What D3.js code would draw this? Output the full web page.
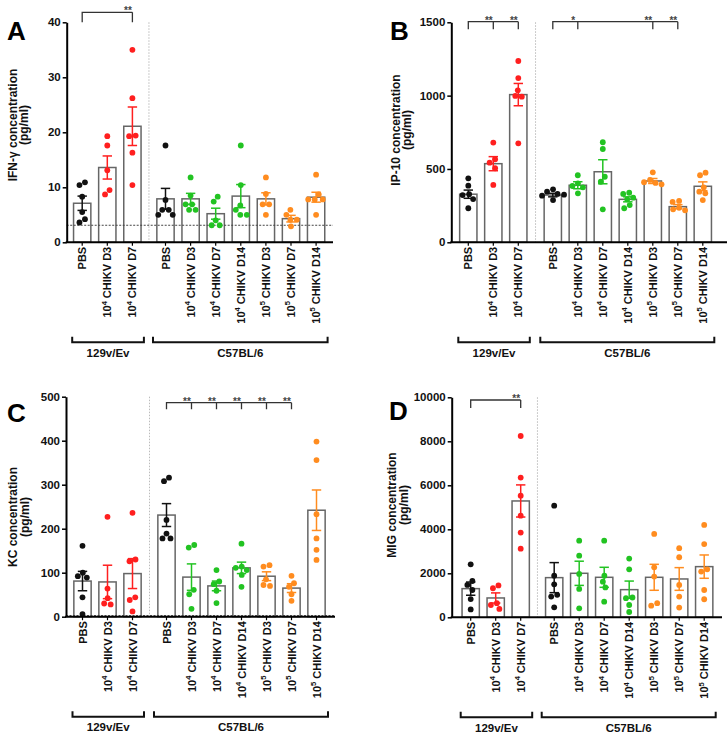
<!DOCTYPE html>
<html>
<head>
<meta http-equiv="Content-Type" content="text/html;charset=utf-8" />
<style type="text/css">
  body { margin: 0; background: #fff; }
  svg text { font-family: "Liberation Sans", Arial, sans-serif; font-weight: bold; }
</style>
</head>
<body>
<div id="svgContainer"></div>
<script src="https://cdn.jsdelivr.net/npm/d3@7/dist/d3.min.js"></script>
<script type="text/javascript">
// categories (same for all four panels)
var categories = ["PBS", "10^4 CHIKV D3", "10^4 CHIKV D7",
  "PBS", "10^4 CHIKV D3", "10^4 CHIKV D7", "10^4 CHIKV D14",
  "10^5 CHIKV D3", "10^5 CHIKV D7", "10^5 CHIKV D14"];
var strains = ["129v/Ev", "C57BL/6"];
var strainOf = [0, 0, 0, 1, 1, 1, 1, 1, 1, 1];

// A - IFN-gamma
var ifnTicks = [0, 10, 20, 30, 40];
var ifnMean = [7.1, 13.6, 21.1, 7.9, 7.9, 5.2, 8.4, 7.9, 4.3, 8.2];
var ifnSem = [1.3, 2.1, 3.5, 1.9, 1.0, 1.0, 2.1, 1.1, 0.6, 0.9];
var ifnPoints = [
  [10.9, 10.4, 8.3, 5.5, 4.2, 3.6],
  [19.3, 17.6, 13.1, 9.5, 8.7],
  [35.0, 26.2, 19.4, 19.3, 16.3, 10.4],
  [17.6, 7.7, 5.9, 5.9, 5.0, 5.0],
  [11.8, 8.5, 6.9, 6.9, 5.9, 5.9],
  [8.3, 7.4, 4.0, 3.1, 3.1],
  [17.6, 10.4, 6.7, 5.9, 5.0, 5.0],
  [11.8, 8.8, 6.9, 6.9, 5.0],
  [5.9, 5.0, 4.1, 4.1, 2.9],
  [12.3, 8.7, 7.8, 7.8, 7.8, 5.0]
];
var ifnLimit = 3.1;
var ifnSig = [{ at: [0, 2], stars: ["**"] }];

// B - IP-10
var ipTicks = [0, 500, 1000, 1500];
var ipMean = [328, 536, 1007, 322, 389, 481, 293, 418, 243, 382];
var ipSem = [28, 48, 76, 12, 24, 82, 17, 17, 14, 30];
var ipPoints = [
  [436, 386, 328, 322, 295, 232],
  [680, 566, 543, 505, 391],
  [1236, 1120, 1036, 998, 993, 675],
  [361, 345, 330, 325, 318, 288],
  [457, 402, 384, 375, 334],
  [682, 636, 447, 413, 225],
  [338, 330, 304, 293, 254, 232],
  [477, 425, 410, 405, 395],
  [282, 275, 235, 225, 218],
  [475, 457, 375, 345, 334, 288]
];
var ipSig = [{ at: [0, 1, 2], stars: ["**", "**"] },
             { at: [3, 4, 7, 8], stars: ["*", "**", "**"] }];

// C - KC
var kcTicks = [0, 100, 200, 300, 400, 500];
var kcMean = [81, 79, 98, 231, 90, 70, 111, 92, 65, 242];
var kcSem = [22, 38, 34, 26, 30, 11, 13, 10, 10, 46];
var kcPoints = [
  [161, 100, 92, 89, 44, 6],
  [227, 64, 42, 30, 28],
  [236, 130, 126, 44, 38, 12],
  [316, 308, 220, 189, 178, 178],
  [163, 157, 61, 51, 18],
  [106, 80, 74, 59, 31],
  [166, 114, 111, 106, 95, 68],
  [117, 114, 85, 72, 70],
  [93, 76, 68, 51, 36],
  [398, 356, 233, 178, 152, 129]
];
var kcLimit = 2.5;
var kcSig = [{ at: [3, 4, 5, 6, 7, 8], stars: ["**", "**", "**", "**", "**"] }];

// D - MIG
var migTicks = [0, 2000, 4000, 6000, 8000, 10000];
var migMean = [1303, 879, 5288, 1803, 2000, 1818, 1257, 1818, 1742, 2303];
var migSem = [300, 230, 730, 683, 550, 455, 390, 590, 516, 530];
var migPoints = [
  [2410, 1650, 1470, 1240, 830, 360],
  [1450, 1320, 640, 560, 380],
  [8240, 6350, 5530, 4620, 3850, 3120],
  [5075, 1890, 1500, 1020, 940, 455],
  [3485, 2800, 1970, 1290, 410],
  [3485, 1890, 1620, 1360, 710],
  [2670, 2180, 900, 870, 560, 240],
  [3790, 2270, 1850, 640, 530],
  [3140, 2730, 1470, 940, 440],
  [4200, 3330, 2180, 2080, 1240, 820]
];
var migSig = [{ at: [0, 2], stars: ["**"] }];

// layout of the four panels
var panels = [
  { letter: "A", title: "IFN-\u03b3 concentration", ticks: ifnTicks, mean: ifnMean, sem: ifnSem, pts: ifnPoints, lod: ifnLimit, sig: ifnSig,
    ax: 66.7, zero: 242.3, top: 22.3, off: 15.5, step: 25.1, gap: 8, xEnd: 333, sigY: 12.3, sigLen: 10,
    lx: 7, ly: 39.5, tx: 16.5, ty: 125 },
  { letter: "B", title: "IP-10 concentration", ticks: ipTicks, mean: ipMean, sem: ipSem, pts: ipPoints, lod: null, sig: ipSig,
    ax: 451.3, zero: 242.3, top: 22.3, off: 17, step: 25, gap: 9.5, xEnd: 727, sigY: 21.7, sigLen: 7.6,
    lx: 390, ly: 39.5, tx: 399.7, ty: 130 },
  { letter: "C", title: "KC concentration", ticks: kcTicks, mean: kcMean, sem: kcSem, pts: kcPoints, lod: kcLimit, sig: kcSig,
    ax: 66, zero: 616.7, top: 396.7, off: 16.5, step: 25, gap: 9, xEnd: 335, sigY: 402.7, sigLen: 6.6,
    lx: 7, ly: 421.5, tx: 17.3, ty: 517 },
  { letter: "D", title: "MIG concentration", ticks: migTicks, mean: migMean, sem: migSem, pts: migPoints, lod: null, sig: migSig,
    ax: 451.7, zero: 617.3, top: 397.3, off: 19, step: 25, gap: 8.5, xEnd: 722, sigY: 400, sigLen: 8,
    lx: 389, ly: 420, tx: 396.3, ty: 505 }
];

var W = 728, H = 735;
var barW = 17.3, dotR = 2.9, capW = 9.4;

var svg = d3.select("#svgContainer")
  .append("svg")
  .attr("width", W)
  .attr("height", H);

function colorFor(i) {
  var c = categories[i];
  if (c === "PBS") return "#111111";
  if (strainOf[i] === 0) return "#ff1f1f";
  return c.indexOf("10^4") === 0 ? "#22c322" : "#ff8c1f";
}

// simple beeswarm: nudge points sideways until they stop overlapping,
// then centre every cluster of touching points on the bar
function swarm(vals, y) {
  var minD = 2 * dotR + 0.3;
  var placed = [];
  vals.map(function (v) { return { v: v, py: y(v) }; })
    .sort(function (a, b) { return a.py - b.py; })
    .forEach(function (p) {
      var best = 0;
      for (var k = 0; k < 200; k++) {
        var off = (k % 2 === 0 ? 1 : -1) * Math.ceil(k / 2) * 0.5;
        var ok = placed.every(function (q) { return Math.hypot(q.dx - off, q.py - p.py) >= minD; });
        if (ok) { best = off; break; }
      }
      p.dx = best;
      placed.push(p);
    });
  var clusters = [], cur = [];
  placed.forEach(function (p, i) {
    if (i > 0 && p.py - placed[i - 1].py >= minD) { clusters.push(cur); cur = []; }
    cur.push(p);
  });
  if (cur.length) clusters.push(cur);
  clusters.forEach(function (cl) {
    var m = d3.mean(cl, function (p) { return p.dx; });
    cl.forEach(function (p) { p.dx -= m; });
  });
  return placed;
}

function writeLabel(sel, label, fs) {
  var m = label.match(/^(\d+)\^(\d)(.*)$/);
  if (!m) { sel.text(label); return; }
  sel.append("tspan").text(m[1]);
  sel.append("tspan").attr("font-size", fs * 0.68).attr("dy", -fs * 0.42).text(m[2]);
  sel.append("tspan").attr("dy", fs * 0.42).text(m[3]);
}

function drawPanel(p) {
  var g = svg.append("g");
  var y = d3.scaleLinear().domain([0, d3.max(p.ticks)]).range([p.zero, p.top]);
  var x0 = p.ax + p.off;
  var x = d3.scaleLinear()
    .domain([0, 2, 3, 9])
    .range([x0, x0 + 2 * p.step, x0 + 3 * p.step + p.gap, x0 + 9 * p.step + p.gap]);

  // divider between strains
  var xd = (x(2) + x(3)) / 2;
  g.append("line")
    .attr("x1", xd).attr("x2", xd).attr("y1", p.top).attr("y2", p.zero)
    .attr("stroke", "#bbbbbb").attr("stroke-width", 1).attr("stroke-dasharray", "1.5 1.5");

  // bars (mean)
  g.selectAll("rect.bar").data(p.mean).join("rect")
    .attr("class", "bar")
    .attr("x", function (d, i) { return x(i) - barW / 2; })
    .attr("y", function (d) { return y(d); })
    .attr("width", barW)
    .attr("height", function (d) { return p.zero - y(d); })
    .attr("fill", "#ffffff")
    .attr("stroke", "#666666")
    .attr("stroke-width", 1.5);

  // detection limit
  if (p.lod != null) {
    g.append("line")
      .attr("x1", p.ax).attr("x2", p.xEnd).attr("y1", y(p.lod)).attr("y2", y(p.lod))
      .attr("stroke", "#444444").attr("stroke-width", 1).attr("stroke-dasharray", "2 1.5");
  }

  // individual mice
  p.pts.forEach(function (vals, i) {
    g.append("g").selectAll("circle").data(swarm(vals, y)).join("circle")
      .attr("cx", function (d) { return x(i) + d.dx; })
      .attr("cy", function (d) { return d.py; })
      .attr("r", dotR)
      .attr("fill", colorFor(i));
  });

  // error bars (SEM)
  p.mean.forEach(function (m, i) {
    var c = colorFor(i), cx = x(i);
    var yHi = y(m + p.sem[i]), yLo = y(m - p.sem[i]);
    var eg = g.append("g").attr("stroke", c).attr("stroke-width", 1.5);
    eg.append("line").attr("x1", cx).attr("x2", cx).attr("y1", yHi).attr("y2", yLo);
    eg.append("line").attr("x1", cx - capW / 2).attr("x2", cx + capW / 2).attr("y1", yHi).attr("y2", yHi);
    eg.append("line").attr("x1", cx - capW / 2).attr("x2", cx + capW / 2).attr("y1", yLo).attr("y2", yLo);
  });

  // y axis
  var yAxis = g.append("g")
    .attr("transform", "translate(" + p.ax + ",0)")
    .call(d3.axisLeft(y).tickValues(p.ticks).tickFormat(d3.format("d")).tickSize(4).tickSizeOuter(0).tickPadding(2));
  yAxis.select(".domain").attr("stroke", "#000").attr("stroke-width", 2);
  yAxis.selectAll(".tick line").attr("stroke", "#000").attr("stroke-width", 1.5);
  yAxis.selectAll(".tick text").attr("font-size", 11.5).attr("fill", "#111");

  // x axis
  g.append("line")
    .attr("x1", p.ax - 1).attr("x2", p.xEnd).attr("y1", p.zero).attr("y2", p.zero)
    .attr("stroke", "#000").attr("stroke-width", 2);
  categories.forEach(function (c, i) {
    g.append("line")
      .attr("x1", x(i)).attr("x2", x(i)).attr("y1", p.zero).attr("y2", p.zero + 3.5)
      .attr("stroke", "#000").attr("stroke-width", 1.2);
    var t = g.append("text")
      .attr("transform", "translate(" + (x(i) + 4) + "," + (p.zero + 4.5) + ") rotate(-90)")
      .attr("text-anchor", "end")
      .attr("font-size", 11)
      .attr("fill", "#111");
    writeLabel(t, c, 11);
  });

  // strain brackets
  var by = p.zero + 100;
  strains.forEach(function (s, si) {
    var idx = d3.range(categories.length).filter(function (i) { return strainOf[i] === si; });
    var xL = x(idx[0]) - (si === 0 ? 10 : 12.5);
    var xR = x(idx[idx.length - 1]) + 11.5;
    g.append("path")
      .attr("d", "M" + xL + "," + (by - 5.5) + "V" + by + "H" + xR + "V" + (by - 5.5))
      .attr("fill", "none").attr("stroke", "#111").attr("stroke-width", 2);
    g.append("text")
      .attr("x", (xL + xR) / 2).attr("y", by + 14.5)
      .attr("text-anchor", "middle")
      .attr("font-size", 11.5)
      .attr("fill", "#111")
      .text(s);
  });

  // significance brackets
  p.sig.forEach(function (b) {
    var xs = b.at.map(function (i) { return x(i); });
    var d = "M" + xs[0] + "," + (p.sigY + p.sigLen) + "V" + p.sigY + "H" + xs[xs.length - 1];
    xs.slice(1).forEach(function (xx) { d += "M" + xx + "," + p.sigY + "V" + (p.sigY + p.sigLen); });
    g.append("path").attr("d", d)
      .attr("fill", "none").attr("stroke", "#333").attr("stroke-width", 1.3);
    b.stars.forEach(function (s, k) {
      g.append("text")
        .attr("x", xs[k + 1] - 4.5).attr("y", p.sigY + 1.8)
        .attr("text-anchor", "middle")
        .attr("font-size", 10)
        .attr("fill", "#444")
        .text(s);
    });
  });

  // panel letter
  g.append("text")
    .attr("x", p.lx).attr("y", p.ly)
    .attr("font-size", 26)
    .attr("fill", "#000")
    .text(p.letter);

  // y title
  [p.title, "(pg/ml)"].forEach(function (line, k) {
    g.append("text")
      .attr("transform", "translate(" + (p.tx + k * 11.7) + "," + p.ty + ") rotate(-90)")
      .attr("text-anchor", "middle")
      .attr("font-size", 12)
      .attr("fill", "#111")
      .text(line);
  });
}

panels.forEach(drawPanel);
</script>
</body>
</html>
